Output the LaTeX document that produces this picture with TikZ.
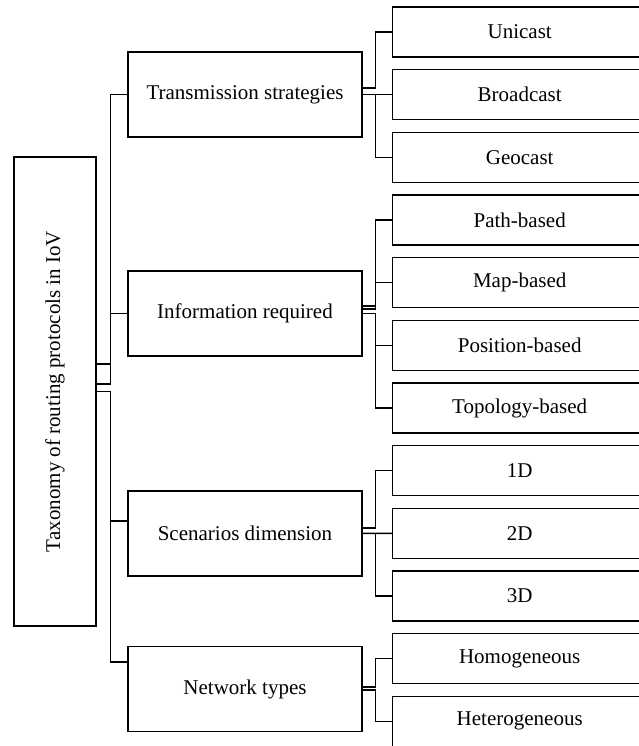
\documentclass[tikz,border=0pt]{standalone}
\usepackage{fontspec}
\setmainfont{Liberation Serif}

\begin{document}
\begin{tikzpicture}[x = 1pt, y = -1pt, line width = 1.4pt,
		box/.style = {draw, inner sep = 0pt, font = \fontsize{21}{25}\selectfont},
		mid/.style = {box, minimum width = 234pt, minimum height = 85pt},
		leaf/.style = {box, anchor = west, minimum width = 254pt, minimum height = 50pt}]
	\useasboundingbox (0,0) rectangle (638,746);
	% root and second level
	\node[box, minimum width = 82pt, minimum height = 469pt] (root) at (55,391.5) {\rotatebox{90}{Taxonomy of routing protocols in IoV}};
	\node[mid] (ts) at (245,94.67) {Transmission strategies};
	\node[mid] (ir) at (245,313.5) {Information required};
	\node[mid] (sd) at (245,533.36) {Scenarios dimension};
	\node[mid] (nt) at (245,689) {Network types};
	% leaves
	\foreach \n/\t [count = \i from 0] in {uni/Unicast, bro/Broadcast, geo/Geocast,
			path/Path-based, map/Map-based, pos/Position-based, topo/Topology-based,
			oned/1D, twod/2D, threed/3D, homo/Homogeneous, hete/Heterogeneous}
		\node[leaf] (\n) at (392,{32+62.67*\i}) {\t};
	% root connectors
	\draw ([yshift = 27.5pt]root.east) -- ++(14,0) |- (ts.west);
	\draw ([yshift = 7.5pt]root.east) -- ++(14,0) |- (ir.west);
	\draw (root.east) -- ++(14,0) |- ([yshift = 12.5pt]sd.west);
	\draw (root.east) -- ++(14,0) |- ([yshift = 27pt]nt.west);
	% leaf connectors
	\draw ([yshift = 6.5pt]ts.east) -- ++(13,0) |- (uni.west);
	\draw (ts.east) -- (bro.west);
	\draw (ts.east) -- ++(13,0) |- (geo.west);
	\draw ([yshift = 7.5pt]ir.east) -- ++(13,0) |- (path.west);
	\draw ([yshift = 4.5pt]ir.east) -- ++(13,0) |- (map.west);
	\draw (ir.east) -- ++(13,0) |- (pos.west);
	\draw (ir.east) -- ++(13,0) |- (topo.west);
	\draw ([yshift = 5.5pt]sd.east) -- ++(13,0) |- (oned.west);
	\draw (sd.east) -- (twod.west);
	\draw (sd.east) -- ++(13,0) |- (threed.west);
	\draw ([yshift = 2pt]nt.east) -- ++(13,0) |- (homo.west);
	\draw ([yshift = -1pt]nt.east) -- ++(13,0) |- (hete.west);
\end{tikzpicture}
\end{document}
